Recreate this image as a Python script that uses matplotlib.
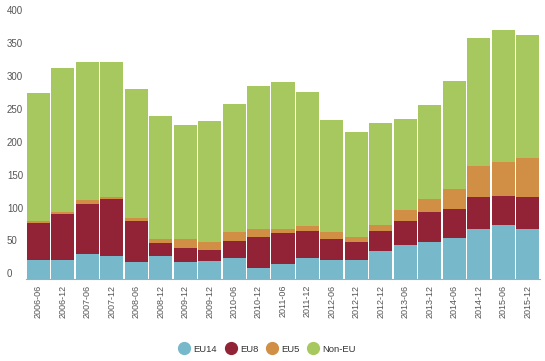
import matplotlib
matplotlib.use("Agg")
import matplotlib.pyplot as plt
import numpy as np
from matplotlib.lines import Line2D

# labels as printed on the source chart (including its duplicates)
periods = [
    "2006-06", "2006-12", "2007-06", "2007-12", "2008-06", "2008-12",
    "2009-12", "2009-12", "2010-06", "2010-12", "2011-06", "2011-12",
    "2012-06", "2012-12", "2012-12", "2013-06", "2013-12", "2014-06",
    "2014-12", "2015-06", "2015-12",
]
eu14 = [29, 29, 39, 35, 27, 36, 26, 28, 32, 17, 24, 33, 30, 29, 43, 52, 57, 63, 77, 83, 77]
eu8 = [57, 71, 76, 87, 62, 19, 22, 16, 27, 48, 47, 40, 32, 28, 31, 37, 45, 44, 48, 44, 48]
eu5 = [3, 3, 6, 3, 4, 6, 13, 13, 13, 11, 6, 8, 10, 7, 8, 17, 20, 30, 48, 52, 59]
non_eu = [195, 218, 209, 206, 197, 187, 174, 184, 195, 218, 223, 204, 171, 160, 156, 138, 144, 165, 194, 201, 188]

series = [
    ("EU14", eu14, "#77b8cb"),
    ("EU8", eu8, "#922337"),
    ("EU5", eu5, "#d08f44"),
    ("Non-EU", non_eu, "#a6c85e"),
]

plt.rcParams["font.family"] = ["Liberation Sans", "DejaVu Sans"]

fig = plt.figure(figsize=(5.45, 3.61), dpi=100)
ax = fig.add_axes([26 / 545, 1 - 279.3 / 361, 514 / 545, (279.3 - 16.5) / 361])

x = np.arange(len(periods))
bottom = np.zeros(len(periods))
for name, vals, color in series:
    vals = np.array(vals, dtype=float)
    ax.bar(x, vals, bottom=bottom, width=0.94, color=color, linewidth=0)
    bottom += vals

ax.set_xlim(-0.5, len(periods) - 0.5)
ax.set_ylim(0, 400)
ax.set_yticks(range(0, 401, 50))
ax.tick_params(axis="y", length=0, pad=13.7, labelsize=7, labelcolor="#555555")
for lbl in ax.get_yticklabels():
    lbl.set_horizontalalignment("left")
    lbl.set_verticalalignment("bottom")

ax.set_xticks(x)
ax.set_xticklabels(periods, rotation=90, fontsize=6.5, color="#555555")
ax.tick_params(axis="x", length=0, pad=4)

for side in ["top", "right", "left"]:
    ax.spines[side].set_visible(False)
ax.spines["bottom"].set_color("#aaaaaa")
ax.spines["bottom"].set_linewidth(0.8)

handles = [
    Line2D([], [], marker="o", linestyle="", markersize=8.5, color=c, label=n)
    for n, _, c in series
]
fig.legend(handles=handles, loc="center", bbox_to_anchor=(0.491, 1 - 349 / 361),
           ncol=4, frameon=False, fontsize=6.8, handletextpad=0.5,
           columnspacing=0.9, handlelength=1.0, labelcolor="#333333")

fig.savefig("out.png", dpi=100)
